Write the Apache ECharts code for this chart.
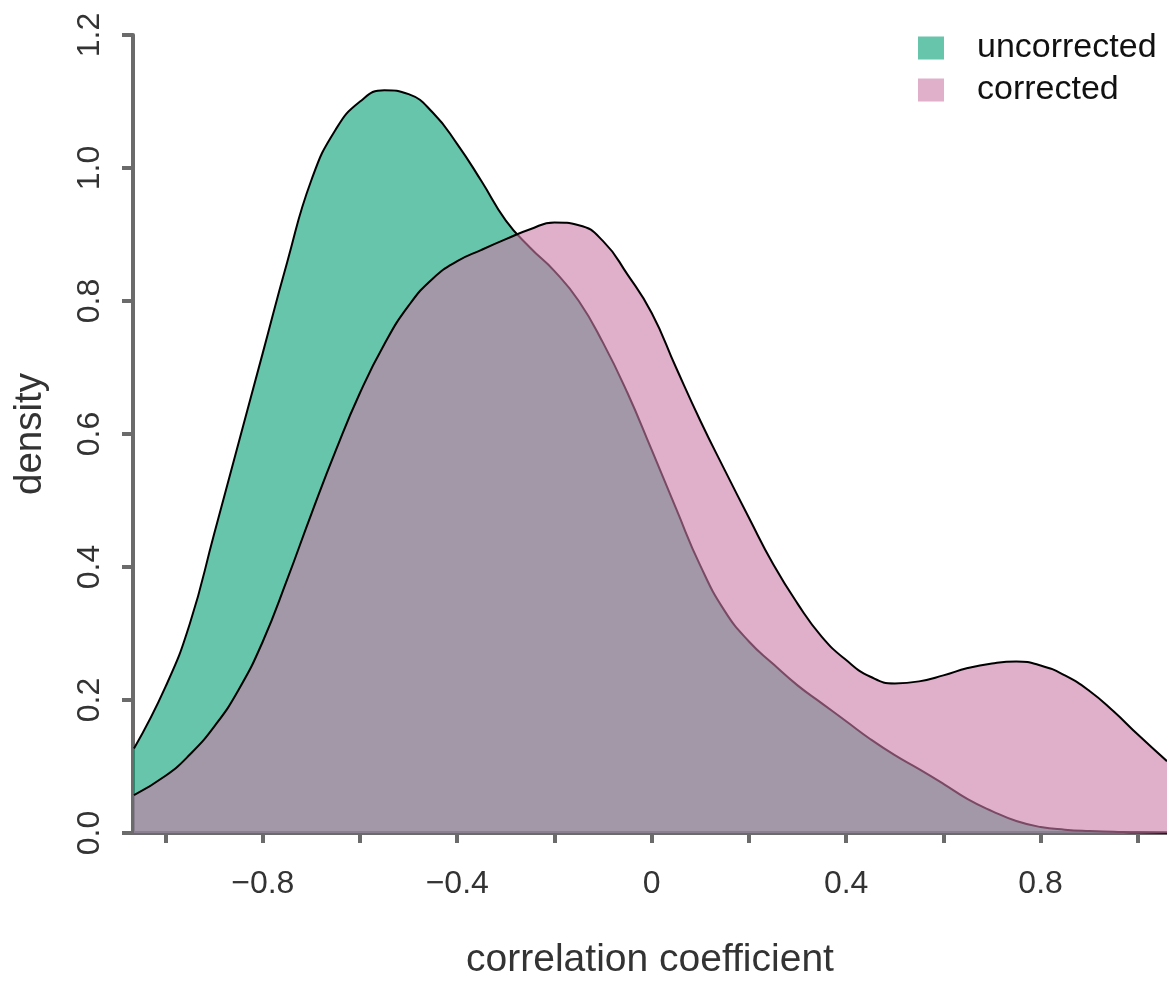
<!DOCTYPE html>
<html>
<head>
<meta charset="utf-8">
<script src="https://cdn.jsdelivr.net/npm/echarts@6/dist/echarts.min.js"></script>
<style>
  html, body { margin: 0; padding: 0; background: #fff; }
  #chart { width: 1167px; height: 995px; }
</style>
</head>
<body>
<div id="chart"></div>
<script>
// ---- data ----
const xValues = [-1.065, -1.00, -0.95, -0.90, -0.85, -0.80, -0.75, -0.70, -0.65, -0.60,
  -0.55, -0.50, -0.45, -0.40, -0.35, -0.30, -0.25, -0.20, -0.15, -0.10,
  -0.05, 0.00, 0.05, 0.10, 0.15, 0.20, 0.25, 0.30, 0.35, 0.40,
  0.45, 0.50, 0.55, 0.60, 0.65, 0.70, 0.75, 0.80, 0.85, 0.90,
  0.95, 1.00, 1.06];

const uncorrected = [0.127, 0.220, 0.315, 0.450, 0.586, 0.722, 0.858, 0.982, 1.058, 1.100,
  1.117, 1.111, 1.083, 1.036, 0.980, 0.921, 0.880, 0.845, 0.800, 0.737,
  0.662, 0.576, 0.488, 0.402, 0.334, 0.288, 0.254, 0.222, 0.195, 0.168,
  0.141, 0.117, 0.096, 0.074, 0.051, 0.033, 0.018, 0.009, 0.005, 0.003,
  0.002, 0.001, 0.0005];

const corrected = [0.057, 0.086, 0.118, 0.160, 0.215, 0.288, 0.381, 0.480, 0.575, 0.662,
  0.735, 0.793, 0.834, 0.860, 0.877, 0.893, 0.908, 0.918, 0.914, 0.890,
  0.840, 0.782, 0.700, 0.620, 0.546, 0.474, 0.404, 0.345, 0.295, 0.260,
  0.235, 0.225, 0.228, 0.237, 0.248, 0.255, 0.258, 0.252, 0.237, 0.214,
  0.183, 0.148, 0.108];

const xTickValues = [-1.0, -0.8, -0.6, -0.4, -0.2, 0, 0.2, 0.4, 0.6, 0.8, 1.0];
const xLabelValues = [-0.8, -0.4, 0, 0.4, 0.8];
const seriesNames = ['uncorrected', 'corrected'];

// ---- chart ----
const toPairs = (ys) => xValues.map((x, i) => [x, ys[i]]);
const axisColor = '#6b6b6b';
const fontFam = '"Liberation Sans", Arial, Helvetica, sans-serif';

const chart = echarts.init(document.getElementById('chart'), null, { renderer: 'canvas' });
chart.setOption({
  animation: false,
  backgroundColor: '#ffffff',
  grid: { left: 133, right: 0, top: 35, bottom: 162, containLabel: false },
  legend: {
    orient: 'vertical',
    left: 913,
    top: 26,
    itemWidth: 26,
    itemHeight: 23,
    itemGap: 8,
    icon: 'rect',
    textStyle: { fontFamily: fontFam, fontSize: 34, color: '#111', padding: [0, 0, 0, 28] },
    data: [
      { name: seriesNames[0], itemStyle: { color: 'rgba(0,158,115,0.6)', borderWidth: 0 } },
      { name: seriesNames[1], itemStyle: { color: 'rgba(204,121,167,0.6)', borderWidth: 0 } }
    ]
  },
  xAxis: {
    type: 'value',
    min: -1.067,
    max: 1.06,
    name: 'correlation coefficient',
    nameLocation: 'middle',
    nameGap: 108,
    nameTextStyle: { fontFamily: fontFam, fontSize: 39, color: '#333' },
    axisLine: { show: true, onZero: false, lineStyle: { color: axisColor, width: 4 } },
    axisTick: { show: true, length: 10, customValues: xTickValues, lineStyle: { color: axisColor, width: 4 } },
    axisLabel: {
      customValues: xLabelValues,
      margin: 35,
      fontFamily: fontFam, fontSize: 32, color: '#333',
      formatter: (v) => {
        if (Math.abs(v) < 1e-9) return '0';
        return (v < 0 ? '\u2212' : '') + Math.abs(v).toFixed(1);
      }
    },
    splitLine: { show: false }
  },
  yAxis: {
    type: 'value',
    min: 0,
    max: 1.2,
    interval: 0.2,
    name: 'density',
    nameLocation: 'middle',
    nameGap: 83,
    nameTextStyle: { fontFamily: fontFam, fontSize: 38.5, color: '#333' },
    axisLine: { show: true, onZero: false, lineStyle: { color: axisColor, width: 4 } },
    axisTick: { show: true, length: 11, lineStyle: { color: axisColor, width: 4 } },
    axisLabel: {
      rotate: 90,
      margin: 27,
      fontFamily: fontFam, fontSize: 32, color: '#333',
      formatter: (v) => v.toFixed(1)
    },
    splitLine: { show: false }
  },
  series: [
    {
      name: seriesNames[0],
      type: 'line',
      z: 2,
      smooth: 0.5,
      showSymbol: false,
      data: toPairs(uncorrected),
      itemStyle: { color: 'rgba(0,158,115,0.6)' },
      lineStyle: { color: '#000', width: 2 },
      areaStyle: { color: 'rgba(0,158,115,0.6)', opacity: 1 }
    },
    {
      name: seriesNames[1],
      type: 'line',
      z: 3,
      smooth: 0.5,
      showSymbol: false,
      data: toPairs(corrected),
      itemStyle: { color: 'rgba(204,121,167,0.6)' },
      lineStyle: { color: '#000', width: 2 },
      areaStyle: { color: 'rgba(204,121,167,0.6)', opacity: 1 }
    }
  ]
});
</script>
</body>
</html>
